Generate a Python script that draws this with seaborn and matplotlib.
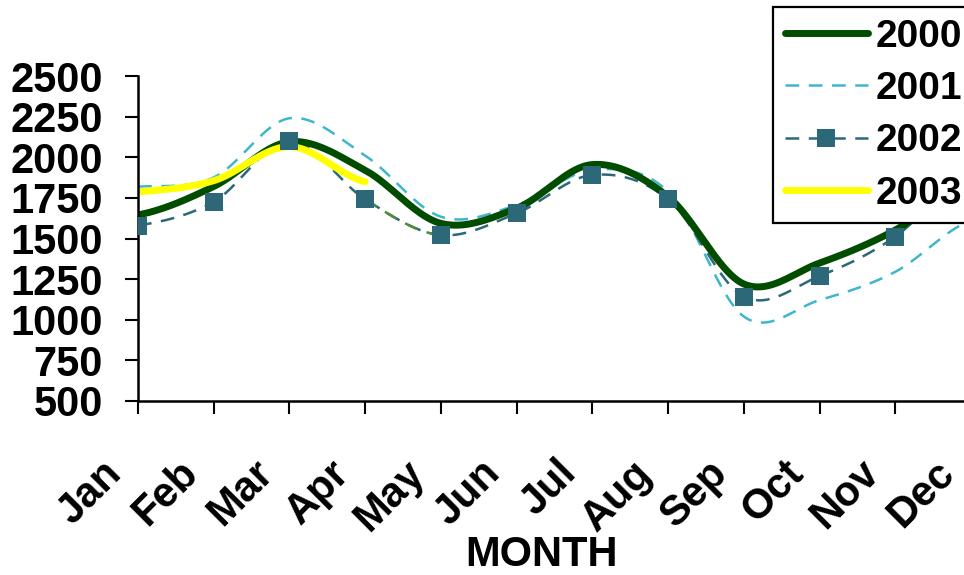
import numpy as np
import pandas as pd
import matplotlib
matplotlib.use("Agg")
import matplotlib.pyplot as plt
import seaborn as sns
from matplotlib.lines import Line2D
from matplotlib.transforms import ScaledTranslation

months = ["Jan", "Feb", "Mar", "Apr", "May", "Jun", "Jul", "Aug", "Sep", "Oct", "Nov", "Dec"]
y2000 = [1645, 1820, 2095, 1920, 1593, 1686, 1955, 1757, 1220, 1349, 1552, 1855]
y2001 = [1819, 1876, 2240, 2010, 1634, 1706, 1921, 1788, 1020, 1121, 1295, 1610]
y2002 = [1580, 1726, 2100, 1741, 1521, 1655, 1891, 1741, 1142, 1269, 1511, 1920]
y2003 = [1788, 1856, 2065, 1849]
yticks = [500, 750, 1000, 1250, 1500, 1750, 2000, 2250, 2500]

C2000 = "#004d00"
C2001 = "#3fb6cc"
C2002 = "#2c6878"
C2003 = "#ffff00"
CSEG = "#4f8d3c"


def smooth(vals, n=40):
    """Catmull-Rom (Excel-style) smoothing through the data points."""
    v = np.asarray(vals, dtype=float)
    k = len(v)
    m = np.zeros(k)
    for i in range(k):
        if i == 0:
            m[i] = (v[1] - v[0]) / 2
        elif i == k - 1:
            m[i] = (v[-1] - v[-2]) / 2
        else:
            m[i] = (v[i + 1] - v[i - 1]) / 2
    xs, ys = [], []
    for i in range(k - 1):
        t = np.linspace(0, 1, n, endpoint=(i == k - 2))
        h00 = 2 * t**3 - 3 * t**2 + 1
        h10 = t**3 - 2 * t**2 + t
        h01 = -2 * t**3 + 3 * t**2
        h11 = t**3 - t**2
        ys.append(h00 * v[i] + h10 * m[i] + h01 * v[i + 1] + h11 * m[i + 1])
        xs.append(i + t)
    return np.concatenate(xs), np.concatenate(ys)


sns.set_theme(style="white")
plt.rcParams["font.family"] = ["Liberation Sans", "DejaVu Sans"]
plt.rcParams["font.weight"] = "bold"
plt.rcParams["text.color"] = "black"
plt.rcParams["xtick.color"] = "black"
plt.rcParams["ytick.color"] = "black"

fig = plt.figure(figsize=(9.64, 5.75), dpi=100)
ax = fig.add_axes([138 / 964, 174 / 575, 833 / 964, 325 / 575])

x0, s0 = smooth(y2000)
x1, s1 = smooth(y2001)
x2, s2 = smooth(y2002)
x3, s3 = smooth(y2003)

DASH = (0, (5.5, 3.8))
sns.lineplot(x=x1, y=s1, ax=ax, color=C2001, linewidth=1.8, estimator=None, sort=False, linestyle=DASH)
sns.lineplot(x=x2, y=s2, ax=ax, color=C2002, linewidth=1.8, estimator=None, sort=False, linestyle=DASH)
seg = (x2 >= 3) & (x2 <= 4)
sns.lineplot(x=x2[seg], y=s2[seg], ax=ax, color=CSEG, linewidth=1.8, estimator=None, sort=False, linestyle=DASH)
sns.lineplot(x=x0, y=s0, ax=ax, color=C2000, linewidth=5, estimator=None, sort=False,
             solid_capstyle="round")
sns.lineplot(x=x3, y=s3, ax=ax, color=C2003, linewidth=5, estimator=None, sort=False,
             solid_capstyle="round")
sns.scatterplot(x=np.arange(len(y2002)), y=y2002, ax=ax, marker="s", s=165, color=C2002,
                edgecolor=C2002, linewidth=0, zorder=5)

ax.set_xlim(0, 11)
ax.set_ylim(500, 2500)
ax.tick_params(axis="both", which="major", direction="out", length=9.4, width=1.5,
               color="black", bottom=True, left=True)
ax.tick_params(axis="y", pad=16)
ax.tick_params(axis="x", pad=28)
ax.set_yticks(yticks)
ax.set_yticklabels([str(t) for t in yticks], fontsize=30, fontweight="bold", color="black")
ax.set_xticks(range(len(months)))
ax.set_xticklabels(months, fontsize=30, fontweight="bold", rotation=45, ha="right", va="top",
                   color="black")
shift = ScaledTranslation(-0.08, 0, fig.dpi_scale_trans)
for lab in ax.get_xticklabels():
    lab.set_transform(lab.get_transform() + shift)
ax.set_xlabel("")
ax.set_ylabel("")
for side in ["top", "right"]:
    ax.spines[side].set_visible(False)
for side in ["left", "bottom"]:
    ax.spines[side].set_color("black")
    ax.spines[side].set_linewidth(1.8)
ax.grid(False)

fig.text(541 / 964, 1 - 555 / 575, "MONTH", fontsize=30, fontweight="bold", ha="center",
         va="center", color="black")

handles = [
    Line2D([], [], color=C2000, linewidth=5, solid_capstyle="round"),
    Line2D([], [], color=C2001, linewidth=1.8, linestyle=DASH),
    Line2D([], [], color=C2002, linewidth=1.8, linestyle=DASH, marker="s",
           markersize=12.5, markerfacecolor=C2002, markeredgewidth=0),
    Line2D([], [], color=C2003, linewidth=5, solid_capstyle="round"),
]
leg = fig.legend(handles, ["2000", "2001", "2002", "2003"], loc="upper left",
                 bbox_to_anchor=(773 / 964, 1 - 7 / 575), bbox_transform=fig.transFigure,
                 prop={"family": "Liberation Sans", "weight": "bold", "size": 28},
                 frameon=True, fancybox=False, borderpad=0.3, handlelength=2.15,
                 handletextpad=0.2, labelspacing=0.42, borderaxespad=0)
leg.get_frame().set_edgecolor("black")
leg.get_frame().set_linewidth(1.6)
leg.get_frame().set_alpha(1)
for t in leg.get_texts():
    t.set_color("black")

fig.savefig("out.png", dpi=100)
